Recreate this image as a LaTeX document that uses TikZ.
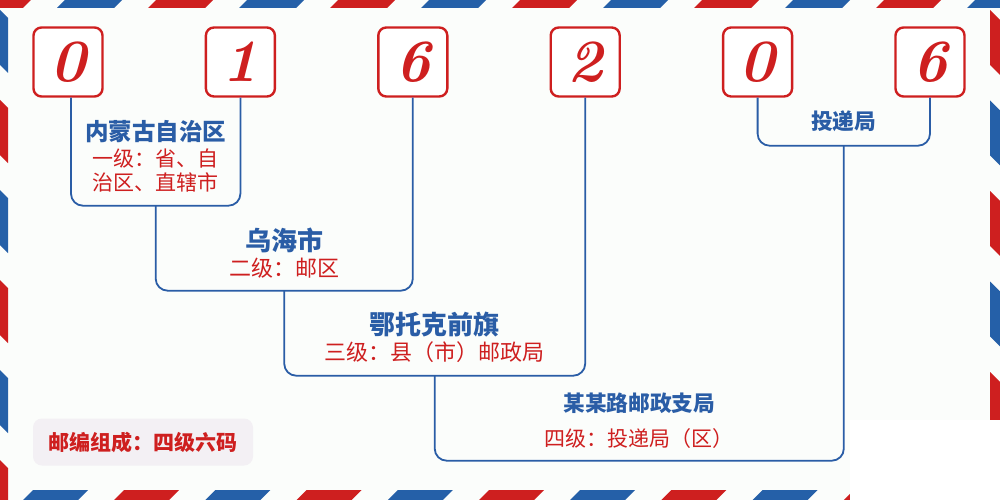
\documentclass[tikz,border=0pt]{standalone}
\usepackage{fontspec}
\usepackage{xcolor}
\usepackage{tikz}
\usetikzlibrary{calc}
\newfontfamily\cjk{Noto Sans CJK SC}
\definecolor{bg}{HTML}{FBFDFB}
\definecolor{postred}{HTML}{CE1F1F}
\definecolor{postblue}{HTML}{2560A8}
\definecolor{lineblue}{HTML}{2A5DA6}
\definecolor{chip}{HTML}{F3F0F4}
\tikzset{
  digit/.style={draw=postred, line width=2.4pt, rounded corners=8pt, fill=white, minimum size=69pt, inner sep=0pt, text=postred, font=\fontsize{60}{60}\selectfont\bfseries\itshape},
  br/.style={draw=lineblue, line width=1.8pt, rounded corners=12pt},
  title/.style={text=lineblue, inner sep=0pt, font=\cjk\bfseries\fontsize{#1}{#1}\selectfont},
  title/.default=25,
  lvl/.style={text=postred, inner sep=0pt, align=center, font=\cjk\fontsize{#1}{24}\selectfont},
  lvl/.default=22,
  legend/.style={fill=chip, rounded corners=9pt, minimum width=220pt, minimum height=47pt, text=postred, font=\cjk\bfseries\fontsize{21}{21}\selectfont},
}

\begin{document}
\begin{tikzpicture}[x=1pt, y=-1pt]
  \fill[bg] (0,0) rectangle (1000,500);
  \useasboundingbox (0,0) rectangle (1000,500);
  % airmail border
  \foreach \x in {-26,156,...,1000} \fill[postred] (\x,0) -- ++(57,0) -- ++(-8,8) -- ++(-57,0) -- cycle;
  \foreach \x in {65,247,...,1000} \fill[postblue] (\x,0) -- ++(57,0) -- ++(-8,8) -- ++(-57,0) -- cycle;
  \foreach \x in {33,215.4,...,1000} \fill[postblue] (\x,490) -- ++(55,0) -- ++(-10,10) -- ++(-55,0) -- cycle;
  \foreach \x in {124.2,306.6,...,1000} \fill[postred] (\x,490) -- ++(55,0) -- ++(-10,10) -- ++(-55,0) -- cycle;
  \foreach \y in {10,190,370} \fill[postblue] (0,\y) -- ++(8,8) -- ++(0,55) -- ++(-8,-8) -- cycle;
  \foreach \y in {100,280,460} \fill[postred] (0,\y) -- ++(8,8) -- ++(0,55) -- ++(-8,-8) -- cycle;
  \foreach \y in {10,191,372} \fill[postred] (990,\y) -- ++(10,10) -- ++(0,55) -- ++(-10,-10) -- cycle;
  \foreach \y in {100.5,281.5} \fill[postblue] (990,\y) -- ++(10,10) -- ++(0,55) -- ++(-10,-10) -- cycle;
  \fill[white] (850,420) rectangle (1000,500);

  % six digits
  \foreach \d [count=\i] in {0,1,6,2,0,6}
    \node[digit] (d\i) at ({68+172.4*(\i-1)},62) {\d};

  % brackets
  \draw[br] ([xshift=3pt]d1.south) -- ++(0,108) -| coordinate[pos=0.25] (m1) (d2.south);
  \draw[br] (m1) -- ++(0,85) -| coordinate[pos=0.25] (m2) (d3.south);
  \draw[br] (m2) -- ++(0,85) -| coordinate[pos=0.25] (m3) (d4.south);
  \draw[br] (d5.south) -- ++(0,48) -| coordinate[pos=0.25] (m5) (d6.south);
  \draw[br] (m3) -- ++(0,85) -| coordinate[pos=0.25] (m4) (m5);

  \node[title=23.5] (t1) at ($(m1)+(0,-74)$) {内蒙古自治区};
  \node[lvl=21] (s1) at ($(m1)+(0,-35.5)$) {一级：省、自\\治区、直辖市};
  \node[title=26] (t2) at ($(m2)+(0,-50)$) {乌海市};
  \node[lvl] (s2) at ($(m2)+(0,-23)$) {二级：邮区};
  \node[title=26] (t3) at ($(m3)+(0,-51)$) {鄂托克前旗};
  \node[lvl] (s3) at ($(m3)+(0,-24)$) {三级：县（市）邮政局};
  \node[title=21.7] (t4) at ($(m4)+(0,-57)$) {某某路邮政支局};
  \node[lvl=21] (s4) at ($(m4)+(0,-22)$) {四级：投递局（区）};
  \node[title=21.7] (t5) at ($(m5)+(0,-24)$) {投递局};

  \node[legend] (key) at (143,442) {邮编组成：四级六码};
\end{tikzpicture}
\end{document}
